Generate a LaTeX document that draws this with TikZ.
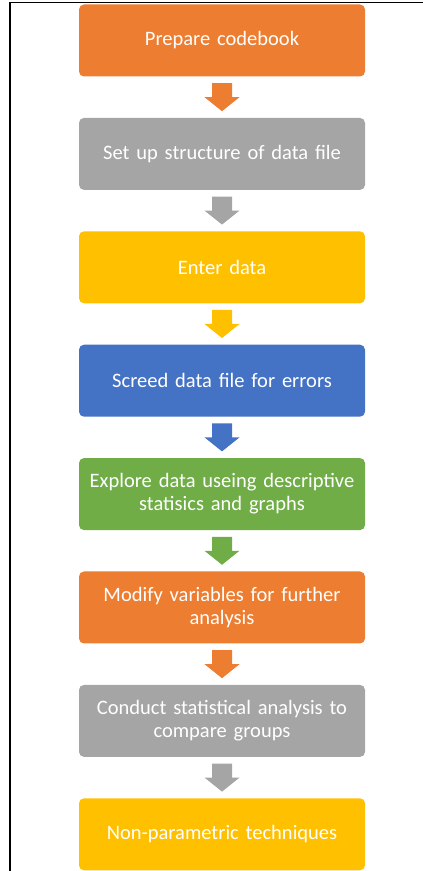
\documentclass[tikz,border=0pt]{standalone}
\usepackage{fontspec}
\setmainfont{Carlito}
\usetikzlibrary{calc,positioning}
\definecolor{stepOrange}{HTML}{ED7D31}
\definecolor{stepGray}{HTML}{A5A5A5}
\definecolor{stepYellow}{HTML}{FFC000}
\definecolor{stepBlue}{HTML}{4472C4}
\definecolor{stepGreen}{HTML}{70AD47}
\tikzset{%
	stepbox/.style = {rectangle,rounded corners=5,fill=#1,text=white,minimum width=286,minimum height=72,text width=282,align=center,inner sep=0,font=\fontsize{20.5}{23}\selectfont}%
}
% block arrow between two boxes: colour, upper box, lower box
\newcommand{\stepdown}[3]{%
	\fill[#1] ($(#2.south)!.5!(#3.north)$) ++(-10,14) -- ++(20,0) -- ++(0,-14) -- ++(7.5,0)
		-- ++(-17.5,-14) -- ++(-17.5,14) -- ++(7.5,0) -- cycle;}

\begin{document}
\begin{tikzpicture}[x=1pt,y=1pt,node distance=41]
		\useasboundingbox (0,0) rectangle (423,871);
		\draw[line width=1.8] (10,0) -- (10,868.5) -- (423,868.5);
		
		\node(1)[stepbox=stepOrange]at(222,830.5){Prepare codebook};
		\node(2)[stepbox=stepGray,below=of 1]{Set up structure of data file};
		\node(3)[stepbox=stepYellow,below=of 2]{Enter data};
		\node(4)[stepbox=stepBlue,below=of 3]{Screed data file for errors};
		\node(5)[stepbox=stepGreen,below=of 4]{Explore data useing descriptive\\statisics and graphs};
		\node(6)[stepbox=stepOrange,below=of 5]{Modify variables for further\\analysis};
		\node(7)[stepbox=stepGray,below=of 6]{Conduct statistical analysis to\\compare groups};
		\node(8)[stepbox=stepYellow,below=of 7]{Non-parametric techniques};
		
		\stepdown{stepOrange}{1}{2}
		\stepdown{stepGray}{2}{3}
		\stepdown{stepYellow}{3}{4}
		\stepdown{stepBlue}{4}{5}
		\stepdown{stepGreen}{5}{6}
		\stepdown{stepOrange}{6}{7}
		\stepdown{stepGray}{7}{8}
		\end{tikzpicture}
\end{document}
